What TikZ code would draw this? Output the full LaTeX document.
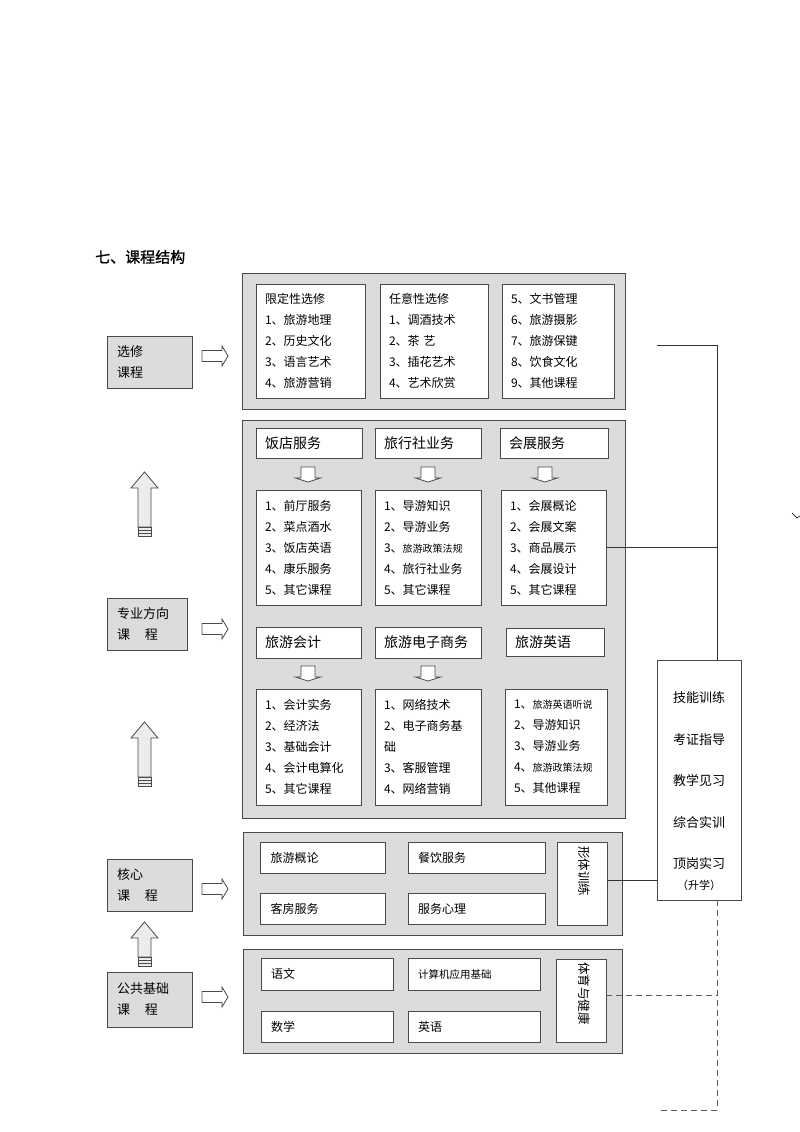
\documentclass[tikz,border=0pt]{standalone}
\usepackage{fontspec}
\setmainfont{Noto Sans CJK SC}
\newfontfamily\titlefont[FakeBold=1.2]{Noto Sans CJK SC}
\definecolor{bd}{HTML}{4A4A4A}
\definecolor{gf}{HTML}{DCDCDC}
\definecolor{ln}{HTML}{333333}
\newcommand\sm[1]{{\fontsize{10}{10}\selectfont #1}}
\newcommand\rarrow[2]{%
  \draw[blk] (#1,#2-5.5) -- ++(20,0) -- ++(0,-4.5) -- ++(6,10) -- ++(-6,10) -- ++(0,-4.5) -- ++(-20,0) -- cycle;}
\newcommand\uarrow[3]{%
  \draw[blk, fill=gray!15] (#1,#2) -- (#1+13.5,#2+16) -- (#1+6.5,#2+16) -- (#1+6.5,#3-9) -- (#1-6.5,#3-9) -- (#1-6.5,#2+16) -- (#1-13.5,#2+16) -- cycle;
  \draw[blk, fill=gray!15] (#1-6.5,#3-9) rectangle (#1+6.5,#3);
  \draw[bd, line width=0.7pt] (#1-6.5,#3-6) -- (#1+6.5,#3-6);
  \draw[bd, line width=0.7pt] (#1-6.5,#3-3) -- (#1+6.5,#3-3);}
\newcommand\darrow[2]{%
  \draw[blk] (#1-7,#2) -- (#1+7,#2) -- (#1+7,#2+11) -- (#1+12.5,#2+11) -- (#1,#2+15) -- (#1-12.5,#2+11) -- (#1-7,#2+11) -- cycle;}
\tikzset{
  gbox/.style={draw=bd, fill=gf, line width=1pt, inner sep=0pt},
  wbox/.style={draw=bd, fill=white, line width=0.9pt},
  lst/.style={wbox, align=left, inner xsep=9pt, font=\fontsize{12}{21}\selectfont},
  hdr/.style={wbox, align=left, inner xsep=9pt, font=\fontsize{14}{16}\selectfont},
  cor/.style={wbox, align=left, inner xsep=10pt, font=\fontsize{12}{14}\selectfont},
  lbl/.style={draw=bd, fill=gf, line width=0.9pt, align=left, inner xsep=10pt, font=\fontsize{13}{21}\selectfont},
  vtxt/.style={rotate=-90, anchor=west, inner sep=0pt, font=\fontsize{12.5}{14}\selectfont},
  blk/.style={draw=bd, fill=white, line width=0.8pt, line join=miter},
  conn/.style={draw=ln, line width=0.9pt},
  dconn/.style={draw=ln!80, line width=1pt, dash pattern=on 6pt off 4pt}
}
\begin{document}
\begin{tikzpicture}[x=1pt,y=-1pt]
\useasboundingbox (0,0) rectangle (800,1132);
\fill[white] (0,0) rectangle (800,1132);

% title
\node[anchor=west, inner sep=0pt, font=\titlefont\fontsize{15}{17}\selectfont] (title) at (95,257) {七、课程结构};

% ---------- elective block ----------
\node[gbox, minimum width=383pt, minimum height=136pt] (G1) at (433.5,341) {};
\node[lst, text width=91pt, minimum height=114pt] (e1) at (310.5,341) {限定性选修\\1、旅游地理\\2、历史文化\\3、语言艺术\\4、旅游营销};
\node[lst, text width=90pt, minimum height=114pt] (e2) at (434,341) {任意性选修\\1、调酒技术\\2、茶~艺\\3、插花艺术\\4、艺术欣赏};
\node[lst, text width=94pt, minimum height=114pt] (e3) at (558,341) {5、文书管理\\6、旅游摄影\\7、旅游保键\\8、饮食文化\\9、其他课程};

% ---------- specialty block ----------
\node[gbox, minimum width=383pt, minimum height=398pt] (G2) at (433.5,619) {};
\node[hdr, text width=88pt, minimum height=30pt] (h1) at (309,443) {饭店服务};
\node[hdr, text width=88pt, minimum height=30pt] (h2) at (428,443) {旅行社业务};
\node[hdr, text width=90pt, minimum height=30pt] (h3) at (554,443) {会展服务};
\darrow{308}{467}
\darrow{428}{467}
\darrow{545}{467}
\node[lst, text width=87pt, minimum height=115pt] (c1) at (308.5,547.5) {1、前厅服务\\2、菜点酒水\\3、饭店英语\\4、康乐服务\\5、其它课程};
\node[lst, text width=88pt, minimum height=115pt] (c2) at (428,547.5) {1、导游知识\\2、导游业务\\3、\sm{旅游政策法规}\\4、旅行社业务\\5、其它课程};
\node[lst, text width=87pt, minimum height=115pt] (c3) at (553.5,547.5) {1、会展概论\\2、会展文案\\3、商品展示\\4、会展设计\\5、其它课程};

\node[hdr, text width=87pt, minimum height=31pt] (h4) at (308.5,642.5) {旅游会计};
\node[hdr, text width=88pt, minimum height=31pt] (h5) at (428,642.5) {旅游电子商务};
\node[hdr, text width=80pt, minimum height=28pt] (h6) at (555,642) {旅游英语};
\darrow{308}{666}
\darrow{428}{666}
\node[lst, text width=87pt, minimum height=116pt] (c4) at (308.5,747) {1、会计实务\\2、经济法\\3、基础会计\\4、会计电算化\\5、其它课程};
\node[lst, text width=88pt, minimum height=116pt] (c5) at (428,747) {1、网络技术\\2、电子商务基\\础\\3、客服管理\\4、网络营销};
\node[lst, text width=84pt, minimum height=116pt] (c6) at (556,747) {1、\sm{旅游英语听说}\\2、导游知识\\3、导游业务\\4、\sm{旅游政策法规}\\5、其他课程};

% ---------- core block ----------
\node[gbox, minimum width=379pt, minimum height=103pt] (G3) at (433,883.5) {};
\node[cor, text width=105pt, minimum height=31pt] (k1) at (323,857.5) {旅游概论};
\node[cor, text width=117pt, minimum height=31pt] (k2) at (476.5,857.5) {餐饮服务};
\node[cor, text width=105pt, minimum height=31pt] (k3) at (323,909) {客房服务};
\node[cor, text width=117pt, minimum height=31pt] (k4) at (476.5,909) {服务心理};
\node[wbox, minimum width=50pt, minimum height=83pt, inner sep=0pt] (k5) at (582,883.5) {};
\node[vtxt] (k5t) at (584,846) {形体训练};

% ---------- public block ----------
\node[gbox, minimum width=379pt, minimum height=104pt] (G4) at (433,1001) {};
\node[cor, text width=112pt, minimum height=32pt] (p1) at (327,974) {语文};
\node[cor, text width=112pt, minimum height=32pt, font=\fontsize{10.5}{12}\selectfont] (p2) at (474,974) {计算机应用基础};
\node[cor, text width=112pt, minimum height=31pt] (p3) at (327,1026.5) {数学};
\node[cor, text width=112pt, minimum height=31pt] (p4) at (474,1026.5) {英语};
\node[wbox, minimum width=50pt, minimum height=83pt, inner sep=0pt] (p5) at (581,1000.5) {};
\node[vtxt] (p5t) at (584,962) {体育与健康};

% ---------- left labels ----------
\node[lbl, text width=65pt, minimum height=52pt] (L1) at (149.5,362) {选修\\课程};
\node[lbl, text width=60pt, minimum height=52pt] (L2) at (147,624) {专业方向\\课\hspace{15pt}程};
\node[lbl, text width=65pt, minimum height=52pt] (L3) at (149.5,885) {核心\\课\hspace{15pt}程};
\node[lbl, text width=65pt, minimum height=55pt] (L4) at (149.5,999.5) {公共基础\\课\hspace{15pt}程};

\rarrow{202}{356}
\rarrow{202}{629}
\rarrow{202}{889}
\rarrow{202}{997}

\uarrow{144.5}{472}{536}
\uarrow{144.5}{722}{786}
\uarrow{144.5}{922}{966}

% ---------- right box ----------
\node[wbox, minimum width=84pt, minimum height=240pt, inner sep=0pt] (R) at (699,780) {};
\node[align=center, inner sep=0pt, font=\fontsize{13}{41.5}\selectfont] (Rt) at (699,781) {技能训练\\考证指导\\教学见习\\综合实训\\顶岗实习};
\node[inner sep=0pt, font=\fontsize{11}{13}\selectfont] (Rs) at (699,885) {（升学）};

% ---------- connectors ----------
\coordinate (t1) at (657,345);
\coordinate (j1) at (717,345);
\draw[conn] (t1) -- (j1) -- (j1 |- R.north);
\draw[conn] (c3.east) -- (c3.east -| j1);
\draw[conn] (k5.east |- 0,880) -- (R.west |- 0,880);
\coordinate (b1) at (717,1110);
\coordinate (b2) at (657,1110);
\draw[dconn] (j1 |- R.south) -- (b1) -- (b2);
\draw[dconn] (p5.east |- 0,995) -- (j1 |- 0,995);

% small mark at right edge
\draw[ln, line width=0.8pt] (792,513) -- (797,518) -- (800,516);
\end{tikzpicture}
\end{document}
